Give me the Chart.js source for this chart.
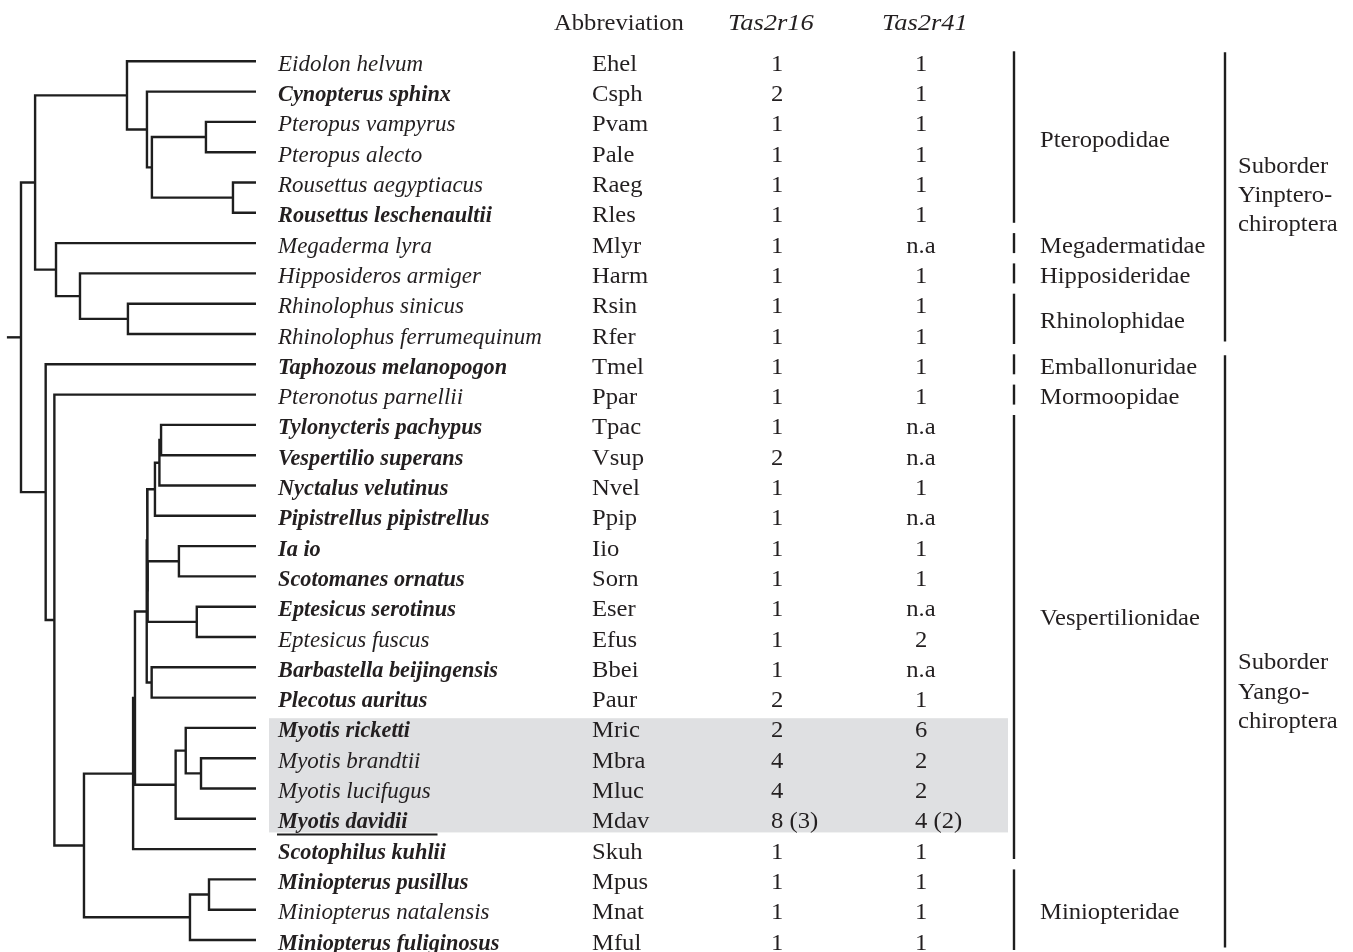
<!DOCTYPE html>
<html>
<head>
<meta charset="utf-8">
<script src="https://cdn.jsdelivr.net/npm/chart.js@4.4.1/dist/chart.umd.min.js"></script>
<style>
  html, body { margin: 0; padding: 0; background: #fff; }
  #wrap { width: 1353px; height: 952px; position: relative; }
</style>
</head>
<body>
<div id="wrap"><canvas id="treeChart"></canvas></div>
<script>
// --------------------------------------------------- DATA
const species = [
  'Eidolon helvum', 'Cynopterus sphinx', 'Pteropus vampyrus', 'Pteropus alecto',
  'Rousettus aegyptiacus', 'Rousettus leschenaultii', 'Megaderma lyra', 'Hipposideros armiger',
  'Rhinolophus sinicus', 'Rhinolophus ferrumequinum', 'Taphozous melanopogon', 'Pteronotus parnellii',
  'Tylonycteris pachypus', 'Vespertilio superans', 'Nyctalus velutinus', 'Pipistrellus pipistrellus',
  'Ia io', 'Scotomanes ornatus', 'Eptesicus serotinus', 'Eptesicus fuscus',
  'Barbastella beijingensis', 'Plecotus auritus', 'Myotis ricketti', 'Myotis brandtii',
  'Myotis lucifugus', 'Myotis davidii', 'Scotophilus kuhlii', 'Miniopterus pusillus',
  'Miniopterus natalensis', 'Miniopterus fuliginosus'
]
const abbreviations = [
  'Ehel', 'Csph', 'Pvam', 'Pale', 'Raeg', 'Rles', 'Mlyr', 'Harm', 'Rsin', 'Rfer',
  'Tmel', 'Ppar', 'Tpac', 'Vsup', 'Nvel', 'Ppip', 'Iio', 'Sorn', 'Eser', 'Efus',
  'Bbei', 'Paur', 'Mric', 'Mbra', 'Mluc', 'Mdav', 'Skuh', 'Mpus', 'Mnat', 'Mful'
]
const tas2r16 = [
  '1', '2', '1', '1', '1', '1', '1', '1', '1', '1',
  '1', '1', '1', '2', '1', '1', '1', '1', '1', '1',
  '1', '2', '2', '4', '4', '8 (3)', '1', '1', '1', '1'
]
const tas2r41 = [
  '1', '1', '1', '1', '1', '1', 'n.a', '1', '1', '1',
  '1', '1', 'n.a', 'n.a', '1', 'n.a', '1', '1', 'n.a', '2',
  'n.a', '1', '6', '2', '2', '4 (2)', '1', '1', '1', '1'
]
// species sequenced in this study (bold)
const boldSpecies = [
  'Csph', 'Rles', 'Tmel', 'Tpac', 'Vsup', 'Nvel', 'Ppip', 'Iio', 'Sorn',
  'Eser', 'Bbei', 'Paur', 'Mric', 'Mdav', 'Skuh', 'Mpus', 'Mful'
]
const headers = ['Abbreviation', 'Tas2r16', 'Tas2r41']

const familyNames = ['Pteropodidae', 'Megadermatidae', 'Hipposideridae', 'Rhinolophidae',
  'Emballonuridae', 'Mormoopidae', 'Vespertilionidae', 'Miniopteridae']
const familyFirst = ['Ehel', 'Mlyr', 'Harm', 'Rsin', 'Tmel', 'Ppar', 'Tpac', 'Mpus']
const familyLast = ['Rles', 'Mlyr', 'Harm', 'Rfer', 'Tmel', 'Ppar', 'Skuh', 'Mful']
const familyLabelRow = [2.5, 6, 7, 8.5, 10, 11, 18.3, 28]

const suborderLabels = [['Suborder', 'Yinptero-', 'chiroptera'], ['Suborder', 'Yango-', 'chiroptera']]
const suborderFirst = ['Ehel', 'Tmel']
const suborderLast = ['Rfer', 'Mful']
const suborderLabelRow = [3.36, 19.75]

const highlightFirst = 'Mric'
const highlightLast = 'Mdav'

// internal nodes: [id, depth (root = 0, tips = 1), first child, second child]
const treeNodes = [
  ['pt', 0.787, 'Pvam', 'Pale'],
  ['ro', 0.902, 'Raeg', 'Rles'],
  ['C', 0.557, 'pt', 'ro'],
  ['B', 0.536, 'Csph', 'C'],
  ['A', 0.451, 'Ehel', 'B'],
  ['rh', 0.455, 'Rsin', 'Rfer'],
  ['H', 0.251, 'Harm', 'rh'],
  ['M', 0.149, 'Mlyr', 'H'],
  ['Y', 0.060, 'A', 'M'],
  ['tv', 0.596, 'Tpac', 'Vsup'],
  ['tvn', 0.589, 'tv', 'Nvel'],
  ['tvnp', 0.570, 'tvn', 'Ppip'],
  ['is', 0.672, 'Iio', 'Sorn'],
  ['ee', 0.748, 'Eser', 'Efus'],
  ['isee', 0.539, 'is', 'ee'],
  ['v2', 0.537, 'tvnp', 'isee'],
  ['bp', 0.556, 'Bbei', 'Paur'],
  ['v1', 0.535, 'v2', 'bp'],
  ['my1', 0.766, 'Mbra', 'Mluc'],
  ['my2', 0.701, 'Mric', 'my1'],
  ['my3', 0.658, 'my2', 'Mdav'],
  ['va', 0.485, 'v1', 'my3'],
  ['vb', 0.477, 'va', 'Skuh'],
  ['mp', 0.800, 'Mpus', 'Mnat'],
  ['mi', 0.719, 'mp', 'Mful'],
  ['n84', 0.268, 'vb', 'mi'],
  ['n54', 0.142, 'Ppar', 'n84'],
  ['n45', 0.105, 'Tmel', 'n54'],
  ['root', 0, 'Y', 'n45']
]
const rootStub = -0.06

// --------------------------------------------------- LAYOUT
const rowTop = 61.3
const rowStep = 30.3
const tipPixel = 256
const rootPixel = 21
const nameX = 278
const abbrevX = 592
const col16X = 771
const col41X = 915
const familyLineX = 1014
const familyTextX = 1040
const suborderLineX = 1225
const suborderTextX = 1238
const textColor = '#231f20'
const lineColor = '#1e1e1e'
const serif = '"Liberation Serif", "Times New Roman", serif'

// --------------------------------------------------- TREE
const nodeMap = {}
treeNodes.forEach(n => { nodeMap[n[0]] = n })

function nodeRow(id) {
  if (!nodeMap[id]) return abbreviations.indexOf(id)
  const n = nodeMap[id]
  return (nodeRow(n[2]) + nodeRow(n[3])) / 2
}

function nodeDepth(id) {
  return nodeMap[id] ? nodeMap[id][1] : 1
}

const treeDatasets = treeNodes.map(n => {
  const rowA = nodeRow(n[2])
  const rowB = nodeRow(n[3])
  return {
    data: [
      { x: nodeDepth(n[2]), y: rowA },
      { x: n[1], y: rowA },
      { x: n[1], y: rowB },
      { x: nodeDepth(n[3]), y: rowB }
    ],
    borderColor: lineColor,
    borderWidth: 2.4,
    borderJoinStyle: 'miter',
    borderCapStyle: 'butt',
    pointRadius: 0,
    fill: false
  }
})
treeDatasets.push({
  data: [{ x: rootStub, y: nodeRow('root') }, { x: 0, y: nodeRow('root') }],
  borderColor: lineColor,
  borderWidth: 2.4,
  pointRadius: 0,
  fill: false
})

// --------------------------------------------------- PLUGINS
function drawText(ctx, text, x, y, font, stretch, align) {
  ctx.save()
  ctx.font = font
  ctx.fillStyle = textColor
  ctx.textBaseline = 'alphabetic'
  ctx.textAlign = align || 'left'
  ctx.translate(x, y)
  ctx.scale(stretch, 1)
  ctx.fillText(text, 0, 0)
  ctx.restore()
}

function vLine(ctx, x, y1, y2) {
  ctx.save()
  ctx.strokeStyle = lineColor
  ctx.lineWidth = 2.4
  ctx.beginPath()
  ctx.moveTo(x, y1)
  ctx.lineTo(x, y2)
  ctx.stroke()
  ctx.restore()
}

const highlightPlugin = {
  id: 'highlight',
  beforeDatasetsDraw(chart) {
    const ctx = chart.ctx
    const yScale = chart.scales.y
    const top = yScale.getPixelForValue(abbreviations.indexOf(highlightFirst) - 0.32)
    const bottom = yScale.getPixelForValue(abbreviations.indexOf(highlightLast) + 0.45)
    ctx.save()
    ctx.fillStyle = '#dfe0e2'
    ctx.fillRect(269, top, 1008 - 269, bottom - top)
    ctx.restore()
  }
}

const tablePlugin = {
  id: 'table',
  afterDatasetsDraw(chart) {
    const ctx = chart.ctx
    const yScale = chart.scales.y
    const base = row => yScale.getPixelForValue(row) + 9.5

    const regular = '23px ' + serif
    const italic = 'italic 23px ' + serif
    const boldItalic = 'italic bold 23px ' + serif

    // headers
    const headY = base(-1.36)
    drawText(ctx, headers[0], 554, headY, regular, 1.07)
    drawText(ctx, headers[1], 728, headY, italic, 1.15)
    drawText(ctx, headers[2], 882, headY, italic, 1.15)

    species.forEach((name, i) => {
      const y = base(i)
      const isBold = boldSpecies.includes(abbreviations[i])
      drawText(ctx, name, nameX, y, isBold ? boldItalic : italic, isBold ? 0.97 : 1.0)
      drawText(ctx, abbreviations[i], abbrevX, y, regular, 1.07)
      drawText(ctx, tas2r16[i], col16X, y, regular, 1.07)
      if (tas2r41[i] === 'n.a') {
        drawText(ctx, tas2r41[i], col41X + 6, y, regular, 1.07, 'center')
      } else {
        drawText(ctx, tas2r41[i], col41X, y, regular, 1.07)
      }
    })

    // underline below Myotis davidii
    const mdav = abbreviations.indexOf('Mdav')
    ctx.save()
    ctx.font = boldItalic
    const w = ctx.measureText(species[mdav]).width * 0.97
    ctx.strokeStyle = lineColor
    ctx.lineWidth = 2
    ctx.beginPath()
    const uy = yScale.getPixelForValue(mdav + 0.52)
    ctx.moveTo(nameX - 1, uy)
    ctx.lineTo(nameX + w + 30, uy)
    ctx.stroke()
    ctx.restore()

    // families
    familyNames.forEach((fam, i) => {
      const y1 = yScale.getPixelForValue(abbreviations.indexOf(familyFirst[i]) - 0.33)
      const y2 = yScale.getPixelForValue(abbreviations.indexOf(familyLast[i]) + 0.33)
      vLine(ctx, familyLineX, y1, y2)
      drawText(ctx, fam, familyTextX, base(familyLabelRow[i]), regular, 1.07)
    })

    // suborders
    suborderLabels.forEach((lines, i) => {
      const y1 = yScale.getPixelForValue(abbreviations.indexOf(suborderFirst[i]) - 0.3)
      const y2 = yScale.getPixelForValue(abbreviations.indexOf(suborderLast[i]) + 0.25)
      vLine(ctx, suborderLineX, y1, y2)
      lines.forEach((t, k) => {
        drawText(ctx, t, suborderTextX, base(suborderLabelRow[i] + k * 0.97), regular, 1.07)
      })
    })
  }
}

// --------------------------------------------------- CHART
const treeChart = new Chart(document.getElementById('treeChart'), {
  type: 'line',
  data: { datasets: treeDatasets },
  options: {
    responsive: true,
    maintainAspectRatio: false,
    animation: false,
    layout: { padding: 0 },
    plugins: {
      legend: { display: false },
      tooltip: { enabled: false }
    },
    scales: {
      x: {
        type: 'linear',
        display: false,
        min: -rootPixel / (tipPixel - rootPixel),
        max: (1353 - rootPixel) / (tipPixel - rootPixel)
      },
      y: {
        type: 'linear',
        display: false,
        reverse: true,
        min: -rowTop / rowStep,
        max: (952 - rowTop) / rowStep
      }
    }
  },
  plugins: [highlightPlugin, tablePlugin]
})
</script>
</body>
</html>
